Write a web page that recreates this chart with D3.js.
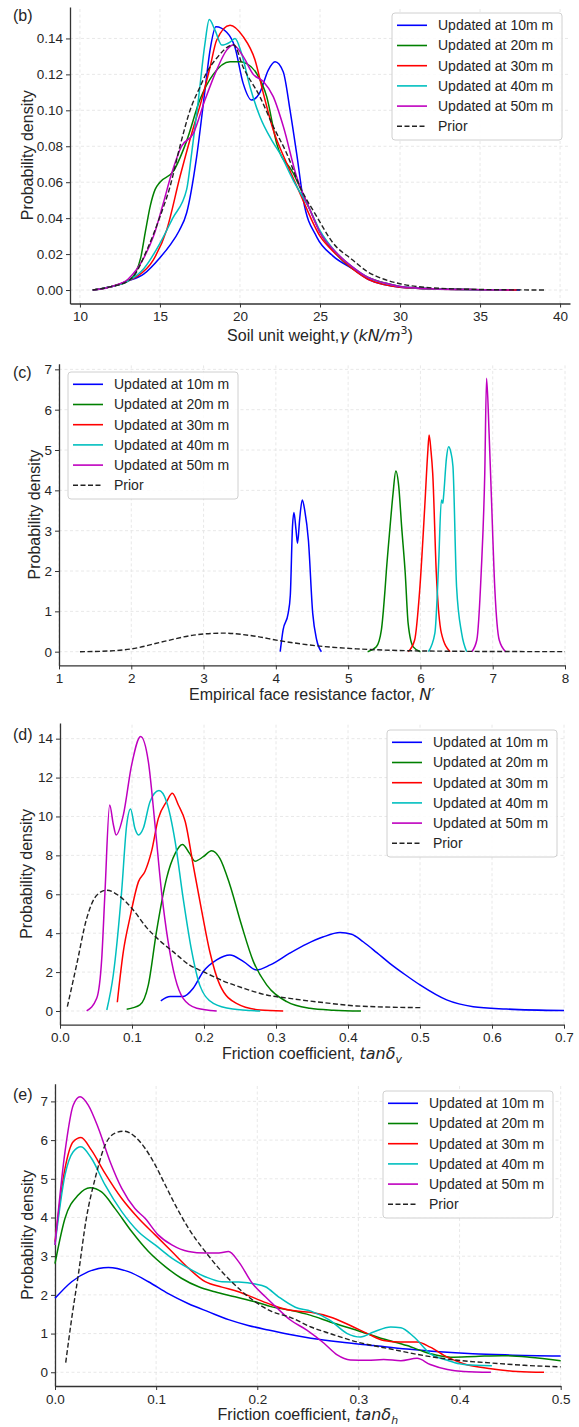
<!DOCTYPE html>
<html>
<head>
<meta charset="utf-8">
<script src="https://cdn.jsdelivr.net/npm/d3@7"></script>
<style>
  body { margin: 0; background: #fff; }
  text { font-family: "Liberation Sans", Arial, sans-serif; fill: #262626; }
</style>
</head>
<body>
<script>
// ---- legend / series names ----
const seriesNames = ["Updated at 10m m", "Updated at 20m m", "Updated at 30m m",
                     "Updated at 40m m", "Updated at 50m m", "Prior"];
const seriesColors = ["#0000ff", "#008000", "#ff0000", "#00bfbf", "#bf00bf", "#222"];

// ---- (b) soil unit weight ----
const gammaTicks = [10, 15, 20, 25, 30, 35, 40];
const densityTicksB = [0, 0.02, 0.04, 0.06, 0.08, 0.10, 0.12, 0.14];
const gamma10 = [[10.8,0],[12,0.002],[13,0.005],[14,0.009],[15,0.018],[15.63,0.025],[16.2,0.033],[16.67,0.043],[17.29,0.074],[17.81,0.111],[18.13,0.1335],[18.5,0.1465],[19.17,0.1435],[19.69,0.135],[20.2,0.115],[20.73,0.1057],[21.25,0.110],[21.77,0.1224],[22.19,0.127],[22.7,0.1215],[23.13,0.100],[23.54,0.076],[23.96,0.050],[24.79,0.0296],[25.8,0.019],[27,0.012],[28,0.006],[29,0.003],[30,0.0015],[32,0.0006],[35,0.0002],[37.5,0]];
const gamma20 = [[10.8,0],[12,0.002],[13,0.005],[13.5,0.010],[13.8,0.018],[14.1,0.033],[14.4,0.047],[14.7,0.056],[15.0,0.060],[15.83,0.066],[16.67,0.083],[17.5,0.106],[18.33,0.120],[19.38,0.127],[20.0,0.127],[20.42,0.126],[21.04,0.1205],[21.67,0.1076],[22.29,0.0816],[23.33,0.065],[24.38,0.0445],[25,0.032],[26,0.020],[27,0.012],[28,0.007],[29,0.004],[30,0.002],[32,0.0007],[35,0.0002],[37,0]];
const gamma30 = [[10.8,0],[12,0.002],[13,0.005],[13.54,0.0074],[14.58,0.0167],[15.42,0.0334],[16.25,0.063],[16.98,0.087],[17.6,0.1057],[18.13,0.124],[18.54,0.139],[19.38,0.1474],[20.2,0.141],[20.94,0.128],[21.46,0.1094],[22.08,0.089],[22.92,0.0705],[23.75,0.0538],[25,0.030],[26,0.020],[27,0.012],[28,0.006],[29,0.003],[30,0.0015],[32,0.0006],[35,0.0002],[37.3,0]];
const gamma40 = [[10.8,0],[12,0.002],[13,0.005],[14,0.012],[15,0.026],[15.8,0.040],[16.67,0.056],[16.98,0.076],[17.4,0.1057],[17.81,0.137],[18.08,0.1505],[18.44,0.1446],[18.86,0.1363],[19.38,0.138],[19.69,0.140],[20.1,0.1316],[20.63,0.113],[21.25,0.0964],[21.98,0.0834],[22.5,0.076],[23.33,0.061],[24.38,0.0445],[25,0.033],[26,0.021],[27,0.013],[28,0.007],[29,0.004],[30,0.002],[32,0.0007],[35,0.0002],[36.5,0]];
const gamma50 = [[10.8,0],[12,0.002],[13,0.006],[14,0.018],[14.6,0.030],[15.2,0.048],[15.7,0.064],[16.35,0.080],[17.08,0.087],[17.81,0.1057],[18.54,0.1224],[19.17,0.1335],[19.58,0.1363],[20.2,0.130],[20.83,0.120],[21.46,0.116],[22.08,0.1076],[22.71,0.091],[23.54,0.063],[24.38,0.0445],[25,0.032],[26,0.021],[27,0.013],[28,0.007],[29,0.004],[30,0.002],[32,0.0007],[35,0.0002],[37,0]];
const gammaPrior = [[10.8,0],[12,0.002],[13,0.005],[13.33,0.0074],[14.17,0.022],[15,0.0408],[15.63,0.0575],[16.25,0.080],[16.88,0.100],[17.5,0.113],[17.92,0.121],[18.54,0.129],[19.38,0.136],[19.6,0.1365],[20.2,0.124],[21.25,0.1075],[22.08,0.091],[22.92,0.076],[23.75,0.0575],[24.79,0.041],[25.83,0.026],[27,0.017],[28,0.010],[29,0.006],[30,0.0035],[32,0.0012],[35,0.0003],[39.1,0]];

// ---- (c) empirical face resistance factor ----
const nTicks = [1, 2, 3, 4, 5, 6, 7, 8];
const densityTicksC = [0, 1, 2, 3, 4, 5, 6, 7];
const n10 = [[4.06,0],[4.10,0.54],[4.17,0.95],[4.20,1.4],[4.23,3.1],[4.25,3.45],[4.28,3.0],[4.30,2.69],[4.33,3.3],[4.365,3.76],[4.40,3.5],[4.45,2.77],[4.51,0.95],[4.565,0.29],[4.63,0]];
const n20 = [[5.27,0],[5.39,0.12],[5.46,0.54],[5.51,1.53],[5.53,2.03],[5.58,3.1],[5.62,3.9],[5.66,4.48],[5.70,4.1],[5.74,3.1],[5.79,1.94],[5.83,0.70],[5.90,0.12],[6.0,0]];
const n30 = [[5.83,0],[5.92,0.29],[5.99,1.53],[6.06,3.6],[6.10,4.9],[6.12,5.37],[6.145,5.0],[6.17,4.42],[6.22,1.94],[6.29,0.46],[6.41,0]];
const n40 = [[6.11,0],[6.20,0.46],[6.25,2.1],[6.29,3.76],[6.31,3.68],[6.32,3.85],[6.36,4.8],[6.39,5.08],[6.42,4.95],[6.45,4.59],[6.50,1.61],[6.57,0.46],[6.64,0]];
const n50 = [[6.71,0],[6.78,0.29],[6.84,1.94],[6.89,4.42],[6.915,6.78],[6.95,5.41],[6.98,3.93],[7.03,1.53],[7.09,0.29],[7.18,0]];
const nPrior = [[1.29,0],[1.6,0.01],[2.0,0.07],[2.49,0.27],[2.86,0.41],[3.27,0.46],[3.69,0.39],[4.06,0.27],[4.65,0.13],[5.12,0.07],[5.8,0.025],[6.5,0.01],[7.2,0.004],[8,0.001]];

// ---- (d) vertical friction coefficient ----
const tanVTicks = [0, 0.1, 0.2, 0.3, 0.4, 0.5, 0.6, 0.7];
const densityTicksD = [0, 2, 4, 6, 8, 10, 12, 14];
const tanV10 = [[0.14,0.52],[0.153,0.74],[0.171,0.74],[0.185,1.17],[0.199,2.03],[0.2176,2.63],[0.236,2.88],[0.255,2.54],[0.273,2.11],[0.292,2.37],[0.319,2.97],[0.343,3.45],[0.365,3.8],[0.389,4.03],[0.405,3.95],[0.421,3.56],[0.44,3.0],[0.458,2.45],[0.48,1.85],[0.5,1.34],[0.537,0.57],[0.574,0.22],[0.62,0.1],[0.7,0.02]];
const tanV20 = [[0.0926,0.09],[0.111,0.31],[0.1227,1.34],[0.134,4.08],[0.148,6.82],[0.16,8.1],[0.17,8.56],[0.18,8.1],[0.1875,7.7],[0.199,7.93],[0.2106,8.24],[0.222,7.85],[0.236,6.48],[0.252,4.43],[0.2685,2.55],[0.287,1.34],[0.315,0.48],[0.347,0.14],[0.38,0.04],[0.418,0]];
const tanV30 = [[0.0796,0.45],[0.088,3.06],[0.097,4.77],[0.109,6.65],[0.118,7.17],[0.127,8.19],[0.1366,9.9],[0.148,10.76],[0.156,11.19],[0.1644,10.59],[0.174,9.73],[0.185,7.5],[0.197,5.11],[0.208,3.06],[0.222,1.34],[0.245,0.39],[0.278,0.05],[0.31,0]];
const tanV40 = [[0.065,0.05],[0.074,1.85],[0.0856,6.14],[0.0926,9.56],[0.098,10.39],[0.104,9.39],[0.109,9.05],[0.1157,9.39],[0.125,10.76],[0.1375,11.33],[0.148,10.76],[0.16,8.7],[0.171,5.8],[0.183,3.06],[0.194,1.34],[0.213,0.39],[0.24,0.1],[0.278,0]];
const tanV50 = [[0.037,0],[0.051,0.65],[0.058,2.71],[0.0625,6.14],[0.069,10.59],[0.074,9.6],[0.078,9.05],[0.088,10.08],[0.0995,12.65],[0.112,14.11],[0.1227,12.82],[0.132,9.56],[0.141,6.14],[0.15,3.6],[0.16,1.7],[0.171,0.65],[0.19,0.14],[0.2176,0]];
const tanVPrior = [[0.0102,0.22],[0.023,2.36],[0.037,4.75],[0.051,5.95],[0.0648,6.21],[0.081,5.95],[0.102,5.18],[0.12,4.3],[0.139,3.6],[0.157,3.05],[0.18,2.36],[0.199,2.02],[0.227,1.54],[0.255,1.17],[0.287,0.82],[0.319,0.65],[0.347,0.51],[0.366,0.43],[0.412,0.26],[0.501,0.17]];

// ---- (e) horizontal friction coefficient ----
const tanHTicks = [0, 0.1, 0.2, 0.3, 0.4, 0.5];
const densityTicksE = [0, 1, 2, 3, 4, 5, 6, 7];
const tanH10 = [[0,1.91],[0.0165,2.34],[0.033,2.6],[0.0528,2.71],[0.0726,2.6],[0.0924,2.34],[0.112,2.03],[0.132,1.77],[0.152,1.56],[0.1716,1.36],[0.191,1.21],[0.211,1.09],[0.231,0.98],[0.253,0.88],[0.282,0.78],[0.315,0.69],[0.348,0.6],[0.38,0.53],[0.413,0.48],[0.445,0.45],[0.5,0.42]];
const tanH20 = [[0,2.81],[0.0099,3.98],[0.023,4.58],[0.0347,4.77],[0.046,4.66],[0.0594,4.23],[0.076,3.63],[0.0924,3.12],[0.109,2.73],[0.125,2.43],[0.142,2.21],[0.158,2.08],[0.178,1.95],[0.198,1.82],[0.2145,1.69],[0.2327,1.6],[0.253,1.47],[0.272,1.3],[0.299,1.08],[0.325,0.86],[0.348,0.69],[0.371,0.48],[0.391,0.39],[0.416,0.41],[0.442,0.43],[0.469,0.39],[0.5,0.3]];
const tanH30 = [[0,3.37],[0.0099,5.27],[0.018,5.96],[0.0257,6.07],[0.036,5.74],[0.0495,5.14],[0.066,4.49],[0.0825,3.98],[0.099,3.55],[0.1155,3.12],[0.132,2.69],[0.1485,2.34],[0.165,2.2],[0.1815,2.08],[0.198,1.91],[0.2145,1.74],[0.2327,1.6],[0.253,1.55],[0.272,1.43],[0.292,1.21],[0.309,1.0],[0.325,0.82],[0.342,0.78],[0.358,0.78],[0.371,0.65],[0.388,0.39],[0.404,0.22],[0.431,0.09],[0.457,0.02],[0.4835,0]];
const tanH40 = [[0,3.29],[0.0099,5.1],[0.018,5.7],[0.0257,5.83],[0.036,5.53],[0.0495,4.84],[0.066,4.15],[0.0825,3.63],[0.099,3.29],[0.1155,2.95],[0.132,2.69],[0.1485,2.47],[0.165,2.34],[0.1815,2.33],[0.198,2.28],[0.208,2.21],[0.221,1.95],[0.2376,1.68],[0.253,1.58],[0.272,1.34],[0.289,1.0],[0.302,0.91],[0.315,1.04],[0.332,1.17],[0.342,1.15],[0.355,0.91],[0.371,0.48],[0.388,0.31],[0.4,0.22],[0.416,0.18],[0.432,0.17]];
const tanH50 = [[0,3.29],[0.0099,5.7],[0.018,6.9],[0.0248,7.12],[0.033,6.9],[0.043,6.3],[0.0545,5.44],[0.066,4.75],[0.079,4.23],[0.089,3.98],[0.102,3.55],[0.1155,3.29],[0.132,3.12],[0.1485,3.08],[0.162,3.08],[0.1716,3.12],[0.1815,2.86],[0.195,2.3],[0.208,1.95],[0.218,1.7],[0.2327,1.35],[0.249,1.09],[0.266,0.75],[0.279,0.45],[0.292,0.32],[0.309,0.31],[0.325,0.33],[0.342,0.3],[0.358,0.36],[0.371,0.2],[0.388,0.07],[0.404,0.02],[0.431,0]];
const tanHPrior = [[0.0106,0.25],[0.0165,1.39],[0.023,2.51],[0.031,3.98],[0.0396,5.0],[0.0495,5.87],[0.0594,6.18],[0.0677,6.23],[0.079,6.09],[0.089,5.79],[0.099,5.36],[0.109,4.84],[0.119,4.32],[0.132,3.72],[0.1485,3.12],[0.165,2.6],[0.1815,2.17],[0.198,1.82],[0.2145,1.57],[0.2327,1.42],[0.253,1.17],[0.272,1.0],[0.299,0.78],[0.332,0.6],[0.365,0.43],[0.398,0.31],[0.431,0.24],[0.464,0.18],[0.5,0.14]];

const W = 579, H = 1427;
const svg = d3.select("body").append("svg")
    .attr("width", W)
    .attr("height", H)
    .style("background", "#fff");

const mathFont = "'DejaVu Sans', sans-serif";

// ─── one panel ───────────────────────────────
function drawPanel(p) {
    const x = d3.scaleLinear().domain(p.xDomain).range(p.xRange);
    const y = d3.scaleLinear().domain(p.yDomain).range(p.yRange);
    const g = svg.append("g");
    const [x0, x1] = p.xRange, [yb, yt] = p.yRange;

    // dashed grid
    g.append("g").selectAll("line").data(p.xTicks).enter().append("line")
        .attr("x1", d => x(d)).attr("x2", d => x(d))
        .attr("y1", yb).attr("y2", yt)
        .attr("stroke", "#e2e2e2").attr("stroke-width", 0.8).attr("stroke-dasharray", "3,2.5");
    g.append("g").selectAll("line").data(p.yTicks).enter().append("line")
        .attr("x1", x0).attr("x2", x1)
        .attr("y1", d => y(d)).attr("y2", d => y(d))
        .attr("stroke", "#e2e2e2").attr("stroke-width", 0.8).attr("stroke-dasharray", "3,2.5");

    // axes (left + bottom only)
    const xAxis = g.append("g").attr("transform", `translate(0,${yb})`)
        .call(d3.axisBottom(x).tickValues(p.xTicks).tickFormat(p.xFmt).tickSizeInner(4).tickSizeOuter(0).tickPadding(4));
    const yAxis = g.append("g").attr("transform", `translate(${x0},0)`)
        .call(d3.axisLeft(y).tickValues(p.yTicks).tickFormat(p.yFmt).tickSizeInner(4).tickSizeOuter(0).tickPadding(3));
    [xAxis, yAxis].forEach(a => {
        a.select(".domain").attr("stroke", "#333").attr("stroke-width", 1.3);
        a.selectAll(".tick line").attr("stroke", "#333").attr("stroke-width", 1);
        a.selectAll(".tick text")
            .style("font-family", "'Liberation Sans', Arial, sans-serif")
            .style("font-size", "13.5px").attr("fill", "#262626");
    });

    // density curves
    const line = d3.line().x(d => x(d[0])).y(d => y(d[1])).curve(d3.curveMonotoneX);
    p.series.forEach((s, i) => {
        g.append("path").datum(s)
            .attr("d", line)
            .attr("fill", "none")
            .attr("stroke", seriesColors[i])
            .attr("stroke-width", i === 5 ? 1.4 : 1.5)
            .attr("stroke-dasharray", i === 5 ? "5,2.5" : null);
    });

    // legend
    const lg = g.append("g").attr("transform", `translate(${p.legend[0]},${p.legend[1]})`);
    lg.append("rect").attr("width", 170).attr("height", 127).attr("rx", 3)
        .attr("fill", "#fff").attr("fill-opacity", 0.85)
        .attr("stroke", "#d0d0d0").attr("stroke-width", 1);
    seriesNames.forEach((name, i) => {
        const ry = 12.3 + i * 20.2;
        lg.append("line").attr("x1", 5).attr("x2", 35).attr("y1", ry).attr("y2", ry)
            .attr("stroke", seriesColors[i]).attr("stroke-width", 1.6)
            .attr("stroke-dasharray", i === 5 ? "5,2.5" : null);
        lg.append("text").attr("x", 46).attr("y", ry).attr("dy", "0.35em")
            .style("font-size", "14px").text(name);
    });

    // panel tag
    svg.append("text").attr("x", 13).attr("y", p.tagY)
        .style("font-size", "16px").text(p.tag);

    // y label
    svg.append("text")
        .attr("transform", `translate(${p.yLabelX},${(yb + yt) / 2}) rotate(-90)`)
        .attr("text-anchor", "middle")
        .style("font-size", "16px").text("Probability density");

    // x label
    const xl = svg.append("text").attr("x", (x0 + x1) / 2).attr("y", yb + p.xLabelDy)
        .attr("text-anchor", "middle").style("font-size", "16px");
    p.xLabel(xl);
}

drawPanel({
    tag: "(b)", tagY: 21,
    xDomain: [9.38, 40.62], xRange: [70, 570],
    yDomain: [-0.0075, 0.1575], yRange: [303.5, 7],
    xTicks: gammaTicks, yTicks: densityTicksB,
    xFmt: d3.format("d"), yFmt: d3.format(".2f"),
    series: [gamma10, gamma20, gamma30, gamma40, gamma50, gammaPrior],
    legend: [392, 13], yLabelX: 33, xLabelDy: 37,
    xLabel: t => {
        t.append("tspan").text("Soil unit weight,");
        t.append("tspan").style("font-family", mathFont).style("font-style", "italic").text("γ");
        t.append("tspan").text(" (");
        t.append("tspan").style("font-family", mathFont).style("font-style", "italic").text("kN/m");
        t.append("tspan").style("font-family", mathFont).style("font-size", "11px").attr("dy", -7).text("3");
        t.append("tspan").attr("dy", 7).text(")");
    }
});

drawPanel({
    tag: "(c)", tagY: 378,
    xDomain: [1, 8], xRange: [59, 565],
    yDomain: [-0.34, 7.14], yRange: [665.4, 363.7],
    xTicks: nTicks, yTicks: densityTicksC,
    xFmt: d3.format("d"), yFmt: d3.format("d"),
    series: [n10, n20, n30, n40, n50, nPrior],
    legend: [68, 372], yLabelX: 40, xLabelDy: 35,
    xLabel: t => {
        t.append("tspan").text("Empirical face resistance factor, ");
        t.append("tspan").style("font-family", mathFont).style("font-style", "italic").text("N′");
    }
});

drawPanel({
    tag: "(d)", tagY: 740,
    xDomain: [0, 0.7], xRange: [60, 564],
    yDomain: [-0.705, 14.8], yRange: [1024.7, 723.1],
    xTicks: tanVTicks, yTicks: densityTicksD,
    xFmt: d3.format(".1f"), yFmt: d3.format("d"),
    series: [tanV10, tanV20, tanV30, tanV40, tanV50, tanVPrior],
    legend: [387, 730], yLabelX: 32, xLabelDy: 34,
    xLabel: t => {
        t.append("tspan").text("Friction coefficient, ");
        t.append("tspan").style("font-family", mathFont).style("font-style", "italic").text("tanδ");
        t.append("tspan").style("font-family", mathFont).style("font-style", "italic")
            .style("font-size", "11px").attr("dy", 4).text("v");
    }
});

drawPanel({
    tag: "(e)", tagY: 1100,
    xDomain: [0, 0.5], xRange: [55, 560.7],
    yDomain: [-0.355, 7.455], yRange: [1386, 1083.8],
    xTicks: tanHTicks, yTicks: densityTicksE,
    xFmt: d3.format(".1f"), yFmt: d3.format("d"),
    series: [tanH10, tanH20, tanH30, tanH40, tanH50, tanHPrior],
    legend: [383, 1091], yLabelX: 33, xLabelDy: 34,
    xLabel: t => {
        t.append("tspan").text("Friction coefficient, ");
        t.append("tspan").style("font-family", mathFont).style("font-style", "italic").text("tanδ");
        t.append("tspan").style("font-family", mathFont).style("font-style", "italic")
            .style("font-size", "11px").attr("dy", 4).text("h");
    }
});
</script>
</body>
</html>
